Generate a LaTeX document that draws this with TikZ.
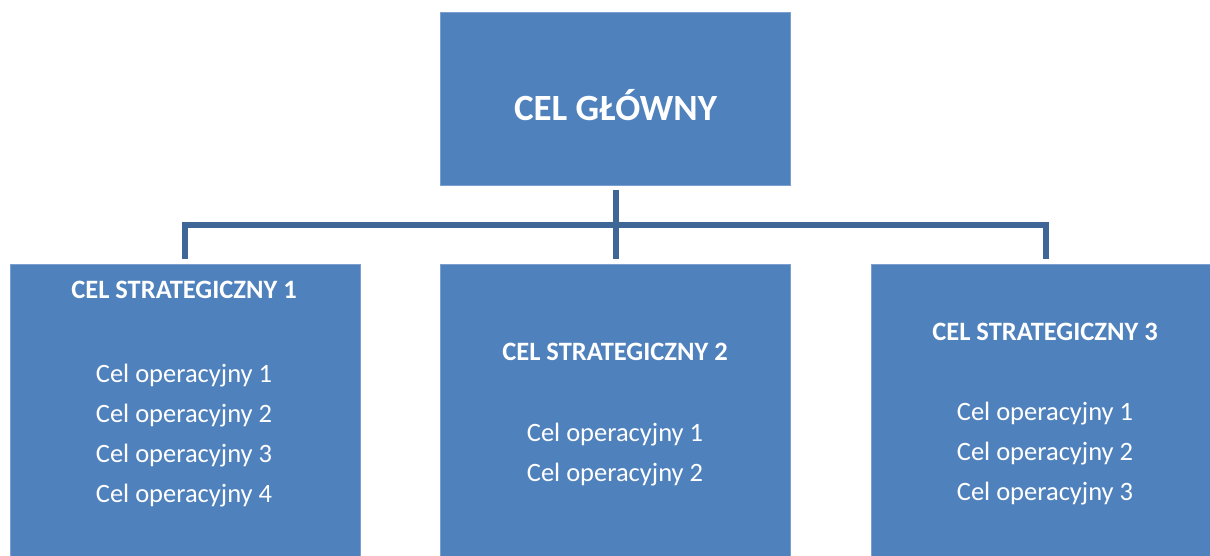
\documentclass[tikz,border=0pt]{standalone}
\usepackage{fontspec}
\setmainfont{Carlito}
\definecolor{boxblue}{HTML}{4F81BD}
\definecolor{boxedge}{HTML}{7A9FD0}
\definecolor{linkblue}{HTML}{3E6797}
\begin{document}
\begin{tikzpicture}[x=1pt,y=-1pt,
  box/.style={fill=boxblue,draw=boxedge,line width=0.8pt,inner sep=0pt,minimum width=350pt},
  txt/.style={text=white,anchor=base,inner sep=0pt,font=\fontsize{26.5}{30}\selectfont},
  head/.style={txt,font=\fontsize{26.5}{30}\selectfont\bfseries},
  conn/.style={draw=linkblue,line width=6pt}]
\useasboundingbox (0,0) rectangle (1210,555);
\clip (0,0) rectangle (1210,555);
\fill[white] (0,0) rectangle (1210,555);
% boxes
\node[box,minimum height=173pt] (top) at (615.5,98.5) {};
\node[box,minimum height=300pt] (s1) at (185,414.5) {};
\node[box,minimum height=300pt] (s2) at (615.5,414.5) {};
\node[box,minimum height=300pt] (s3) at (1046,414.5) {};
% connectors
\coordinate (bus) at (615.5,225);
\draw[conn] ([yshift=-5pt]top.south) -- ([yshift=5pt]s2.north);
\draw[conn,line join=miter] ([yshift=5pt]s1.north) |- (bus) -| ([yshift=5pt]s3.north);
% texts
\node[txt,font=\fontsize{37}{42}\selectfont\bfseries] (t0) at (615.5,120.5) {CEL GŁÓWNY};
\node[head] (h1) at (184,298.5) {CEL STRATEGICZNY 1};
\node[txt] (o11) at (184,382) {Cel operacyjny 1};
\node[txt] (o12) at (184,422) {Cel operacyjny 2};
\node[txt] (o13) at (184,462) {Cel operacyjny 3};
\node[txt] (o14) at (184,502) {Cel operacyjny 4};
\node[head] (h2) at (615,360) {CEL STRATEGICZNY 2};
\node[txt] (o21) at (615,441) {Cel operacyjny 1};
\node[txt] (o22) at (615,481) {Cel operacyjny 2};
\node[head] (h3) at (1045,340) {CEL STRATEGICZNY 3};
\node[txt] (o31) at (1045,420) {Cel operacyjny 1};
\node[txt] (o32) at (1045,460) {Cel operacyjny 2};
\node[txt] (o33) at (1045,500.5) {Cel operacyjny 3};
\end{tikzpicture}
\end{document}
